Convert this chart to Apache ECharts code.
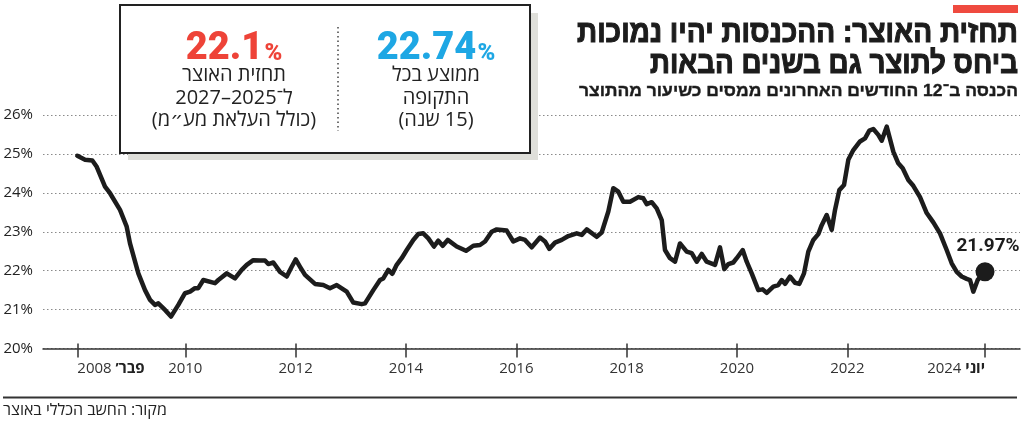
<!DOCTYPE html>
<html><head><meta charset="utf-8">
<script src="https://cdn.jsdelivr.net/npm/echarts@6/dist/echarts.min.js"></script>
<style>html,body{margin:0;padding:0;background:#fff}#c{width:1024px;height:421px}</style>
</head><body><div id="c"></div>
<script>
// ---------- DATA ----------
const years = [2008.043,2008.183,2008.315,2008.395,2008.545,2008.636,2008.817,2008.938,2008.998,2009.149,2009.270,2009.361,2009.451,2009.511,2009.633,2009.741,2009.874,2009.995,2010.086,2010.176,2010.236,2010.327,2010.539,2010.599,2010.751,2010.901,2011.023,2011.114,2011.233,2011.355,2011.445,2011.505,2011.596,2011.717,2011.839,2011.929,2012.002,2012.080,2012.170,2012.351,2012.502,2012.623,2012.745,2012.926,2013.046,2013.198,2013.258,2013.408,2013.530,2013.589,2013.680,2013.753,2013.832,2013.923,2014.014,2014.133,2014.224,2014.314,2014.405,2014.508,2014.586,2014.666,2014.757,2014.920,2015.088,2015.221,2015.342,2015.433,2015.554,2015.645,2015.826,2015.946,2016.067,2016.158,2016.279,2016.430,2016.520,2016.598,2016.702,2016.823,2016.943,2017.095,2017.186,2017.276,2017.457,2017.548,2017.668,2017.758,2017.849,2017.940,2018.061,2018.212,2018.302,2018.364,2018.454,2018.545,2018.636,2018.695,2018.786,2018.877,2018.967,2019.089,2019.179,2019.270,2019.361,2019.451,2019.602,2019.692,2019.770,2019.843,2019.933,2019.995,2020.104,2020.176,2020.267,2020.387,2020.466,2020.539,2020.659,2020.749,2020.811,2020.871,2020.961,2021.052,2021.130,2021.215,2021.293,2021.384,2021.474,2021.536,2021.626,2021.717,2021.777,2021.855,2021.940,2022.018,2022.109,2022.230,2022.321,2022.399,2022.471,2022.562,2022.623,2022.714,2022.834,2022.924,2023.004,2023.106,2023.196,2023.318,2023.439,2023.559,2023.680,2023.801,2023.892,2023.983,2024.073,2024.164,2024.224,2024.284,2024.363,2024.465,2024.496];
const rate = [24.95,24.85,24.83,24.67,24.16,23.99,23.56,23.13,22.70,21.93,21.50,21.25,21.12,21.16,20.99,20.82,21.12,21.42,21.46,21.55,21.55,21.76,21.68,21.76,21.93,21.80,22.02,22.15,22.27,22.26,22.26,22.17,22.21,21.97,21.85,22.10,22.29,22.10,21.89,21.66,21.63,21.55,21.63,21.46,21.18,21.14,21.16,21.50,21.76,21.80,22.02,21.92,22.15,22.32,22.53,22.79,22.94,22.96,22.83,22.62,22.77,22.64,22.79,22.62,22.51,22.64,22.66,22.75,23.00,23.06,23.03,22.75,22.83,22.79,22.60,22.85,22.75,22.56,22.72,22.79,22.89,22.96,22.92,23.06,22.87,22.98,23.52,24.12,24.03,23.77,23.77,23.89,23.86,23.71,23.76,23.60,23.30,22.53,22.32,22.23,22.70,22.49,22.45,22.23,22.43,22.23,22.15,22.60,22.04,22.17,22.21,22.32,22.53,22.23,21.93,21.50,21.52,21.43,21.59,21.63,21.76,21.66,21.85,21.69,21.66,21.93,22.49,22.79,22.94,23.17,23.43,23.05,23.56,24.07,24.20,24.85,25.10,25.32,25.40,25.60,25.64,25.49,25.34,25.70,25.06,24.76,24.63,24.33,24.18,23.89,23.48,23.24,22.96,22.53,22.19,21.97,21.85,21.79,21.76,21.46,21.76,21.93,21.97];
const latestLabel = '21.97%';
const tickValues = [2008.043, 2010, 2012, 2014, 2016, 2018, 2020, 2022, 2024.496];
const tickYears = ['2008','2010','2012','2014','2016','2018','2020','2022','2024'];
const tickMonths = ['פבר’','','','','','','','','יוני'];
const yMin = 20, yMax = 26, yStep = 1;

const title1 = 'תחזית האוצר: ההכנסות יהיו נמוכות';
const title2 = 'ביחס לתוצר גם בשנים הבאות';
const subtitle = 'הכנסה ב־12 החודשים האחרונים ממסים כשיעור מהתוצר';
const forecastNum = '22.1';
const forecastLines = ['תחזית האוצר', 'ל־2025–2027', '(כולל העלאת מע״מ)'];
const averageNum = '22.74';
const averageLines = ['ממוצע בכל', 'התקופה', '(15 שנה)'];
const sourceText = 'מקור: החשב הכללי באוצר';

// ---------- HELPERS ----------
const rtl = s => '\u202B' + s + '\u202C';
const mctx = document.createElement('canvas').getContext('2d');
function fitScale(text, font, width) { mctx.font = font; const w = mctx.measureText(text).width; return Math.min(1.3, width / w); }

const HEB = "'Open Sans','DejaVu Sans','Liberation Sans',sans-serif";
const HEBB = "'Liberation Sans','DejaVu Sans',sans-serif";
const RED = '#ee4338', BLUE = '#1ea7e4', INK = '#1c1c1c';

const t1Font = 'bold 31px ' + HEBB, t3Font = 'bold 17px ' + HEBB;
const s1 = fitScale(rtl(title1), t1Font, 441);
const s2 = fitScale(rtl(title2), t1Font, 368);
const s3 = fitScale(rtl(subtitle), t3Font, 439);

function titleText(txt, font, y, sc, sw) {
  return { type: 'text', x: 1018, y: y, scaleX: sc, originX: 0, z: 60,
    style: { text: rtl(txt), font: font, fill: INK, stroke: INK, lineWidth: sw, align: 'right', verticalAlign: 'middle' } };
}
function boxLine(txt, x, y) {
  return { type: 'text', x: x, y: y, z: 60,
    style: { text: rtl(txt), font: '20px ' + HEB, fill: '#222', align: 'center', verticalAlign: 'middle' } };
}
function bigNum(num, x, y, color) {
  return { type: 'text', x: x, y: y, z: 60,
    style: { text: '{a|' + num + '}{b|%}', align: 'center', verticalAlign: 'middle',
      rich: { a: { font: '900 38px Roboto, sans-serif', fill: color, verticalAlign: 'bottom' },
              b: { font: '900 24px Roboto, sans-serif', fill: color, verticalAlign: 'bottom', padding: [0, 0, 2, 1] } } } };
}

const chart = echarts.init(document.getElementById('c'), null, { renderer: 'canvas' });
const last = years.length - 1;

chart.setOption({
  animation: false,
  backgroundColor: '#fff',
  grid: { left: 43, right: 4, top: 115, bottom: 72.5, containLabel: false, outerBoundsMode: 'none' },
  xAxis: [{
    type: 'value', min: 2007.421, max: 2025.13,
    axisLine: { show: true, lineStyle: { color: '#333', width: 1.5 } },
    axisTick: { show: true, customValues: tickValues, length: 9, lineStyle: { color: '#333', width: 1.5 } },
    axisLabel: { customValues: tickValues, margin: 13, color: '#333', fontSize: 15, fontFamily: 'Open Sans',
      alignMinLabel: 'left', alignMaxLabel: 'right',
      formatter: function (v) {
        const i = tickValues.indexOf(v);
        if (i < 0) return '';
        return tickMonths[i] ? '{n|' + tickYears[i] + ' }{m|' + rtl(tickMonths[i]) + '}' : tickYears[i];
      },
      rich: { n: { fontSize: 15, fontFamily: 'Open Sans', color: '#333' },
              m: { fontSize: 15, fontFamily: HEB, color: '#222', fontWeight: 'bold' } } },
    splitLine: { show: false }
  }, {
    type: 'value', min: 2007.421, max: 2025.13, position: 'bottom',
    axisLine: { show: false },
    axisTick: { show: true, inside: true, customValues: tickValues, length: 5, lineStyle: { color: '#333', width: 1.5 } },
    axisLabel: { show: false }, splitLine: { show: false }
  }],
  yAxis: {
    type: 'value', min: yMin, max: yMax, interval: yStep,
    axisLine: { show: false }, axisTick: { show: false },
    axisLabel: { formatter: '{value}%', color: '#222', fontSize: 15, fontFamily: 'Open Sans', margin: 10 },
    splitLine: { show: true, lineStyle: { type: [1.5, 2.5], color: '#8a8a8a', width: 1 } }
  },
  series: [{
    type: 'line', xAxisIndex: 0,
    data: years.map((y, i) => [y, rate[i]]),
    showSymbol: false, symbol: 'none',
    lineStyle: { color: INK, width: 4.5, cap: 'round', join: 'round' },
    z: 5
  }, {
    type: 'scatter', xAxisIndex: 0,
    data: [[years[last], rate[last]]],
    symbolSize: 19, itemStyle: { color: INK, opacity: 1 },
    label: { show: true, position: 'top', distance: 7, offset: [3, 0], formatter: latestLabel,
      fontFamily: 'Roboto', fontWeight: 'bold', fontSize: 19, color: '#1c1c1c' },
    z: 6
  }],
  graphic: [
    { type: 'rect', z: 60, shape: { x: 953, y: 5, width: 65, height: 8 }, style: { fill: '#ef4a3f' } },
    titleText(title1, t1Font, 33, s1, 1.1),
    titleText(title2, t1Font, 64, s2, 1.1),
    titleText(subtitle, t3Font, 91.5, s3, 0.4),
    { type: 'rect', z: 50, shape: { x: 128, y: 13, width: 410, height: 147 }, style: { fill: '#dfdfda' } },
    { type: 'rect', z: 51, shape: { x: 120, y: 5, width: 410, height: 148 }, style: { fill: '#fff', stroke: '#222', lineWidth: 2 } },
    { type: 'line', z: 52, shape: { x1: 338, y1: 27, x2: 338, y2: 131 }, style: { stroke: '#444', lineWidth: 1.5, lineDash: [1.5, 3] } },
    bigNum(forecastNum, 234, 49, RED),
    bigNum(averageNum, 436, 49, BLUE),
    boxLine(forecastLines[0], 234, 75),
    boxLine(forecastLines[1], 234, 98),
    boxLine(forecastLines[2], 234, 120),
    boxLine(averageLines[0], 436, 75),
    boxLine(averageLines[1], 436, 98),
    boxLine(averageLines[2], 436, 120),
    { type: 'line', z: 50, shape: { x1: 3, y1: 397.5, x2: 1017, y2: 397.5 }, style: { stroke: '#333', lineWidth: 2 } },
    { type: 'text', z: 50, x: 3, y: 410, style: { text: rtl(sourceText), font: '16px ' + HEB, fill: '#222', align: 'left', verticalAlign: 'middle' } }
  ]
});
</script></body></html>
